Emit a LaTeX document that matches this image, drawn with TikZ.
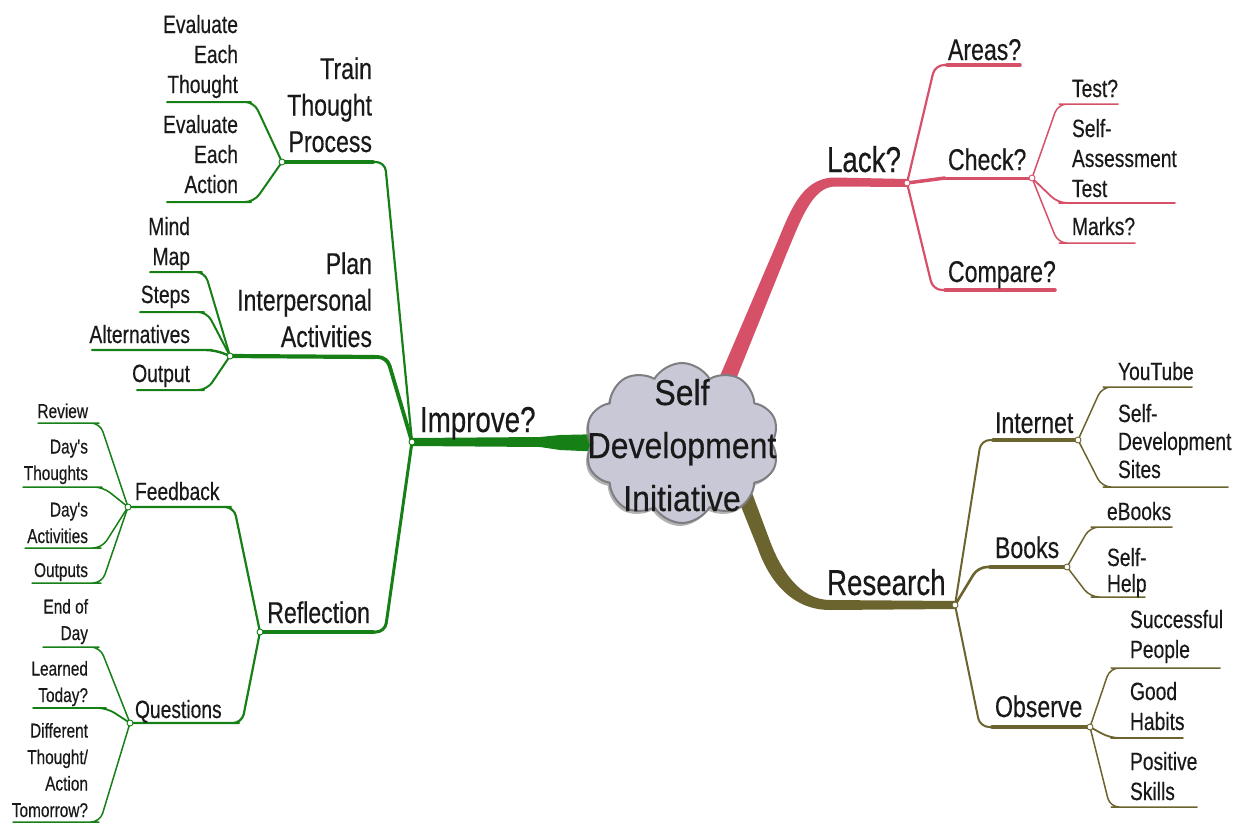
\documentclass[tikz,border=0pt]{standalone}
\usepackage{fontspec}
\setmainfont{Liberation Sans}
\newfontfamily\mapfont[FakeStretch=0.77,FakeBold=0.4]{Liberation Sans}
\newfontfamily\cloudfont[FakeStretch=0.89,FakeBold=0.4]{Liberation Sans}
\usetikzlibrary{shapes.symbols,shadows,calc}

\definecolor{mmgreen}{RGB}{22,128,22}
\definecolor{mmpink}{RGB}{214,80,104}
\definecolor{mmolive}{RGB}{108,100,46}
\definecolor{ink}{RGB}{25,25,25}
\definecolor{cloudfill}{RGB}{200,200,214}
\definecolor{cloudline}{RGB}{125,125,130}

% invisible strut that fixes the depth of the last text line
\newcommand\tailrule{\rule[-8pt]{0pt}{8pt}}

\begin{document}
\begin{tikzpicture}[x=1pt,y=-1pt,line cap=round,line join=round,
  lab/.style={inner sep=0pt,outer sep=0pt,text=ink},
  f1/.style={lab,font=\mapfont\fontsize{36}{42}\selectfont},
  f2/.style={lab,font=\mapfont\fontsize{30}{36.5}\selectfont},
  f3/.style={lab,font=\mapfont\fontsize{25}{#1}\selectfont},
  f3/.default=30,
  f4/.style={lab,font=\mapfont\fontsize{20}{26.5}\selectfont},
  elbow/.style={to path={-- ([xshift=#1]\tikztotarget) -- (\tikztotarget)}},
  jn/.style={circle,draw=#1,fill=white,line width=0.9pt,inner sep=0pt,minimum size=6pt},
  gw/.style={draw=mmgreen,line width=#1,rounded corners=9pt},
  pw/.style={draw=mmpink,line width=#1,rounded corners=9pt},
  ow/.style={draw=mmolive,line width=#1,rounded corners=9pt}]

\useasboundingbox (0,0) rectangle (1237,825);

% ---------- junction and line end points ----------
\coordinate (improve-j) at (412,442);
\coordinate (train-r) at (373,162);  \coordinate (train-j) at (282,162);
\coordinate (plan-r)  at (375,357);  \coordinate (plan-j)  at (230,356);
\coordinate (refl-r)  at (373,632);  \coordinate (refl-j)  at (260,632);
\coordinate (evt-r) at (242,102);    \coordinate (evt-l) at (167,102);
\coordinate (eva-r) at (242,202);    \coordinate (eva-l) at (167,202);
\coordinate (mind-r) at (193,272);   \coordinate (mind-l) at (150,272);
\coordinate (steps-r) at (195,312);  \coordinate (steps-l) at (140,312);
\coordinate (alt-r) at (203,350);    \coordinate (alt-l) at (92,350);
\coordinate (out-r) at (195,390);    \coordinate (out-l) at (137,390);
\coordinate (feed-r) at (222,507);   \coordinate (feed-j) at (128,507);
\coordinate (ques-r) at (230,723);   \coordinate (ques-j) at (130,723);
\coordinate (rev-r) at (90,423);     \coordinate (rev-l) at (38,423);
\coordinate (dth-r) at (93,487);     \coordinate (dth-l) at (23,487);
\coordinate (dac-r) at (92,548);     \coordinate (dac-l) at (25,548);
\coordinate (outs-r) at (92,583);    \coordinate (outs-l) at (32,583);
\coordinate (eod-r) at (90,647);     \coordinate (eod-l) at (43,647);
\coordinate (lrn-r) at (97,708);     \coordinate (lrn-l) at (33,708);
\coordinate (dif-r) at (90,822);     \coordinate (dif-l) at (13,822);

\coordinate (lack-j) at (907,183);
\coordinate (areas-l) at (947,65);   \coordinate (areas-r) at (1020,65);
\coordinate (check-l) at (945,178);  \coordinate (check-j) at (1032,178);
\coordinate (comp-l) at (945,290);   \coordinate (comp-r) at (1055,290);
\coordinate (test-l) at (1068,104);  \coordinate (test-r) at (1118,104);
\coordinate (sat-l) at (1068,203);   \coordinate (sat-r) at (1175,203);
\coordinate (marks-l) at (1068,243); \coordinate (marks-r) at (1135,243);

\coordinate (res-j) at (955,605);
\coordinate (inet-l) at (993,440);   \coordinate (inet-j) at (1078,440);
\coordinate (books-l) at (990,567);  \coordinate (books-j) at (1067,567);
\coordinate (obs-l) at (992,727);    \coordinate (obs-j) at (1090,727);
\coordinate (yt-l) at (1112,387);    \coordinate (yt-r) at (1192,387);
\coordinate (sds-l) at (1112,487);   \coordinate (sds-r) at (1228,487);
\coordinate (ebk-l) at (1100,527);   \coordinate (ebk-r) at (1172,527);
\coordinate (shp-l) at (1100,597);   \coordinate (shp-r) at (1145,597);
\coordinate (sp-l) at (1120,668);    \coordinate (sp-r) at (1220,668);
\coordinate (gh-l) at (1120,738);    \coordinate (gh-r) at (1183,738);
\coordinate (ps-l) at (1120,807);    \coordinate (ps-r) at (1197,807);

% ---------- tapered main branches ----------
\fill[mmgreen] (improve-j) ++(0,-4) -- (540,437) -- (560,435) -- (605,434)
  -- (605,452) -- (560,450) -- (540,447) -- ($(improve-j)+(0,4)$) -- cycle;
\fill[mmpink] (719.6,376.8) -- (775,247.4) .. controls (789,215) and (800,177.5) .. (835,177.5)
  -- ($(lack-j)+(0,-4)$) -- ($(lack-j)+(0,4)$) -- (835,186.5)
  .. controls (812,186.5) and (800,222) .. (787,252.6) -- (734.4,383.2) -- cycle;
\fill[mmolive] (742.4,467) -- (770.5,542.5) .. controls (781,570) and (800,600) .. (830,600)
  -- ($(res-j)+(0,-4)$) -- ($(res-j)+(0,4)$) -- (830,610)
  .. controls (790,610) and (768,578) .. (757.5,547.5) -- (727.6,473) -- cycle;

% ---------- Improve? sub-branches ----------
\draw[gw=2.2] (improve-j) to[elbow=12pt] (train-r);
\draw[gw=4]   (train-r) -- (train-j);
\draw[gw=3.8] (improve-j) to[elbow=12pt] (plan-r);
\draw[gw=4.2] (plan-r) -- (plan-j);
\draw[gw=3]   (improve-j) to[elbow=12pt] (refl-r);
\draw[gw=4.5] (refl-r) -- (refl-j);

\draw[gw=2] (train-j) to[elbow=12pt] (evt-r) -- (evt-l);
\draw[gw=2] (train-j) to[elbow=12pt] (eva-r) -- (eva-l);

\draw[gw=2]   (plan-j) to[elbow=12pt] (mind-r) -- (mind-l);
\draw[gw=2]   (plan-j) to[elbow=12pt] (steps-r) -- (steps-l);
\draw[gw=2.4] (plan-j) to[elbow=12pt] (alt-r) -- (alt-l);
\draw[gw=2]   (plan-j) to[elbow=12pt] (out-r) -- (out-l);

\draw[gw=2.2] (refl-j) to[elbow=12pt] (feed-r) -- (feed-j);
\draw[gw=2.2] (refl-j) to[elbow=12pt] (ques-r) -- (ques-j);

\draw[gw=1.5] (feed-j) to[elbow=10pt] (rev-r) -- (rev-l);
\draw[gw=1.5] (feed-j) to[elbow=10pt] (dth-r) -- (dth-l);
\draw[gw=1.5] (feed-j) to[elbow=10pt] (dac-r) -- (dac-l);
\draw[gw=1.5] (feed-j) to[elbow=10pt] (outs-r) -- (outs-l);

\draw[gw=1.5] (ques-j) to[elbow=10pt] (eod-r) -- (eod-l);
\draw[gw=1.8] (ques-j) to[elbow=10pt] (lrn-r) -- (lrn-l);
\draw[gw=1.5] (ques-j) to[elbow=10pt] (dif-r) -- (dif-l);

% ---------- Lack? sub-branches ----------
\draw[pw=2.2] (lack-j) to[elbow=-12pt] (areas-l);
\draw[pw=3.5] (areas-l) -- (areas-r);
\draw[pw=3.5] (lack-j) -- (check-l);
\draw[pw=3]   (check-l) -- (check-j);
\draw[pw=2.2] (lack-j) to[elbow=-12pt] (comp-l);
\draw[pw=3.5] (comp-l) -- (comp-r);

\draw[pw=1.5] (check-j) to[elbow=-10pt] (test-l) -- (test-r);
\draw[pw=1.8] (check-j) to[elbow=-10pt] (sat-l) -- (sat-r);
\draw[pw=1.5] (check-j) to[elbow=-10pt] (marks-l) -- (marks-r);

% ---------- Research sub-branches ----------
\draw[ow=2]   (res-j) to[elbow=-12pt] (inet-l);
\draw[ow=3.5] (inet-l) -- (inet-j);
\draw[ow=2.6] (res-j) to[elbow=-12pt] (books-l);
\draw[ow=3.5] (books-l) -- (books-j);
\draw[ow=2]   (res-j) to[elbow=-12pt] (obs-l);
\draw[ow=3.5] (obs-l) -- (obs-j);

\draw[ow=1.5] (inet-j) to[elbow=-10pt] (yt-l) -- (yt-r);
\draw[ow=1.5] (inet-j) to[elbow=-10pt] (sds-l) -- (sds-r);
\draw[ow=1.5] (books-j) to[elbow=-10pt] (ebk-l) -- (ebk-r);
\draw[ow=1.5] (books-j) to[elbow=-10pt] (shp-l) -- (shp-r);
\draw[ow=1.5] (obs-j) to[elbow=-10pt] (sp-l) -- (sp-r);
\draw[ow=1.8] (obs-j) to[elbow=-10pt] (gh-l) -- (gh-r);
\draw[ow=1.5] (obs-j) to[elbow=-10pt] (ps-l) -- (ps-r);

% ---------- central topic ----------
\node[cloud,cloud puffs=10,cloud puff arc=120,aspect=1.25,
      minimum width=194pt,minimum height=160pt,
      fill=cloudfill,draw=cloudline,line width=2pt,
      drop shadow={shadow xshift=-2pt,shadow yshift=-3pt,fill=gray,opacity=0.6}]
      (cloud) at (682,443) {};
\node[lab,align=center,anchor=south,font=\cloudfont\fontsize{36}{53}\selectfont]
      (cloudtext) at (682,519) {Self\\Development\\Initiative\tailrule};

% ---------- labels, left side ----------
\node[f1,anchor=base west] (improve) at (420,432) {Improve?};
\node[f2,align=right,anchor=south east] (train) at (372,160) {Train\\Thought\\Process\tailrule};
\node[f2,align=right,anchor=south east] (plan) at (372,355) {Plan\\Interpersonal\\Activities\tailrule};
\node[f2,anchor=base east] (refl) at (370,623) {Reflection};

\node[f3,align=right,anchor=south east] (evt) at (238,101) {Evaluate\\Each\\Thought\tailrule};
\node[f3,align=right,anchor=south east] (eva) at (238,201) {Evaluate\\Each\\Action\tailrule};
\node[f3,align=right,anchor=south east] (mind) at (190,273) {Mind\\Map\tailrule};
\node[f3,anchor=base east] (steps) at (190,303) {Steps};
\node[f3,anchor=base east] (alt) at (190,343) {Alternatives};
\node[f3,anchor=base east] (out) at (190,382) {Output};
\node[f3,anchor=base west] (feed) at (135,500) {Feedback};
\node[f3,anchor=base west] (ques) at (135,718) {Questions};

\node[f4,anchor=base east] (rev) at (88,418) {Review};
\node[f4,align=right,anchor=south east] (dth) at (88,488) {Day's\\Thoughts\tailrule};
\node[f4,align=right,anchor=south east] (dac) at (88,551) {Day's\\Activities\tailrule};
\node[f4,anchor=base east] (outs) at (88,577) {Outputs};
\node[f4,align=right,anchor=south east] (eod) at (88,648) {End of\\Day\tailrule};
\node[f4,align=right,anchor=south east] (lrn) at (88,710) {Learned\\Today?\tailrule};
\node[f4,align=right,anchor=south east] (dif) at (88,825) {Different\\Thought/\\Action\\Tomorrow?\tailrule};

% ---------- labels, right side ----------
\node[f1,anchor=base west] (lack) at (827,172) {Lack?};
\node[f2,anchor=base west] (areas) at (948,60) {Areas?};
\node[f2,anchor=base west] (check) at (948,170) {Check?};
\node[f2,anchor=base west] (comp) at (948,282) {Compare?};
\node[f3,anchor=base west] (test) at (1072,97) {Test?};
\node[f3,align=left,anchor=south west] (sat) at (1072,205) {Self-\\Assessment\\Test\tailrule};
\node[f3,anchor=base west] (marks) at (1072,235) {Marks?};

\node[f1,anchor=base west] (res) at (827,595) {Research};
\node[f2,anchor=base west] (inet) at (995,433) {Internet};
\node[f2,anchor=base west] (books) at (995,558) {Books};
\node[f2,anchor=base west] (obs) at (995,717) {Observe};
\node[f3,anchor=base west] (yt) at (1118,380) {YouTube};
\node[f3=28,align=left,anchor=south west] (sds) at (1118,486) {Self-\\Development\\Sites\tailrule};
\node[f3,anchor=base west] (ebk) at (1107,520) {eBooks};
\node[f3=26,align=left,anchor=south west] (shp) at (1107,600) {Self-\\Help\tailrule};
\node[f3,align=left,anchor=south west] (sp) at (1130,666) {Successful\\People\tailrule};
\node[f3,align=left,anchor=south west] (gh) at (1130,738) {Good\\Habits\tailrule};
\node[f3,align=left,anchor=south west] (ps) at (1130,808) {Positive\\Skills\tailrule};

% ---------- junction markers ----------
\foreach \j in {improve-j,train-j,plan-j,refl-j,feed-j,ques-j}
  \node[jn=mmgreen] (\j-m) at (\j) {};
\foreach \j in {lack-j,check-j}
  \node[jn=mmpink] (\j-m) at (\j) {};
\foreach \j in {res-j,inet-j,books-j,obs-j}
  \node[jn=mmolive] (\j-m) at (\j) {};
\end{tikzpicture}
\end{document}
